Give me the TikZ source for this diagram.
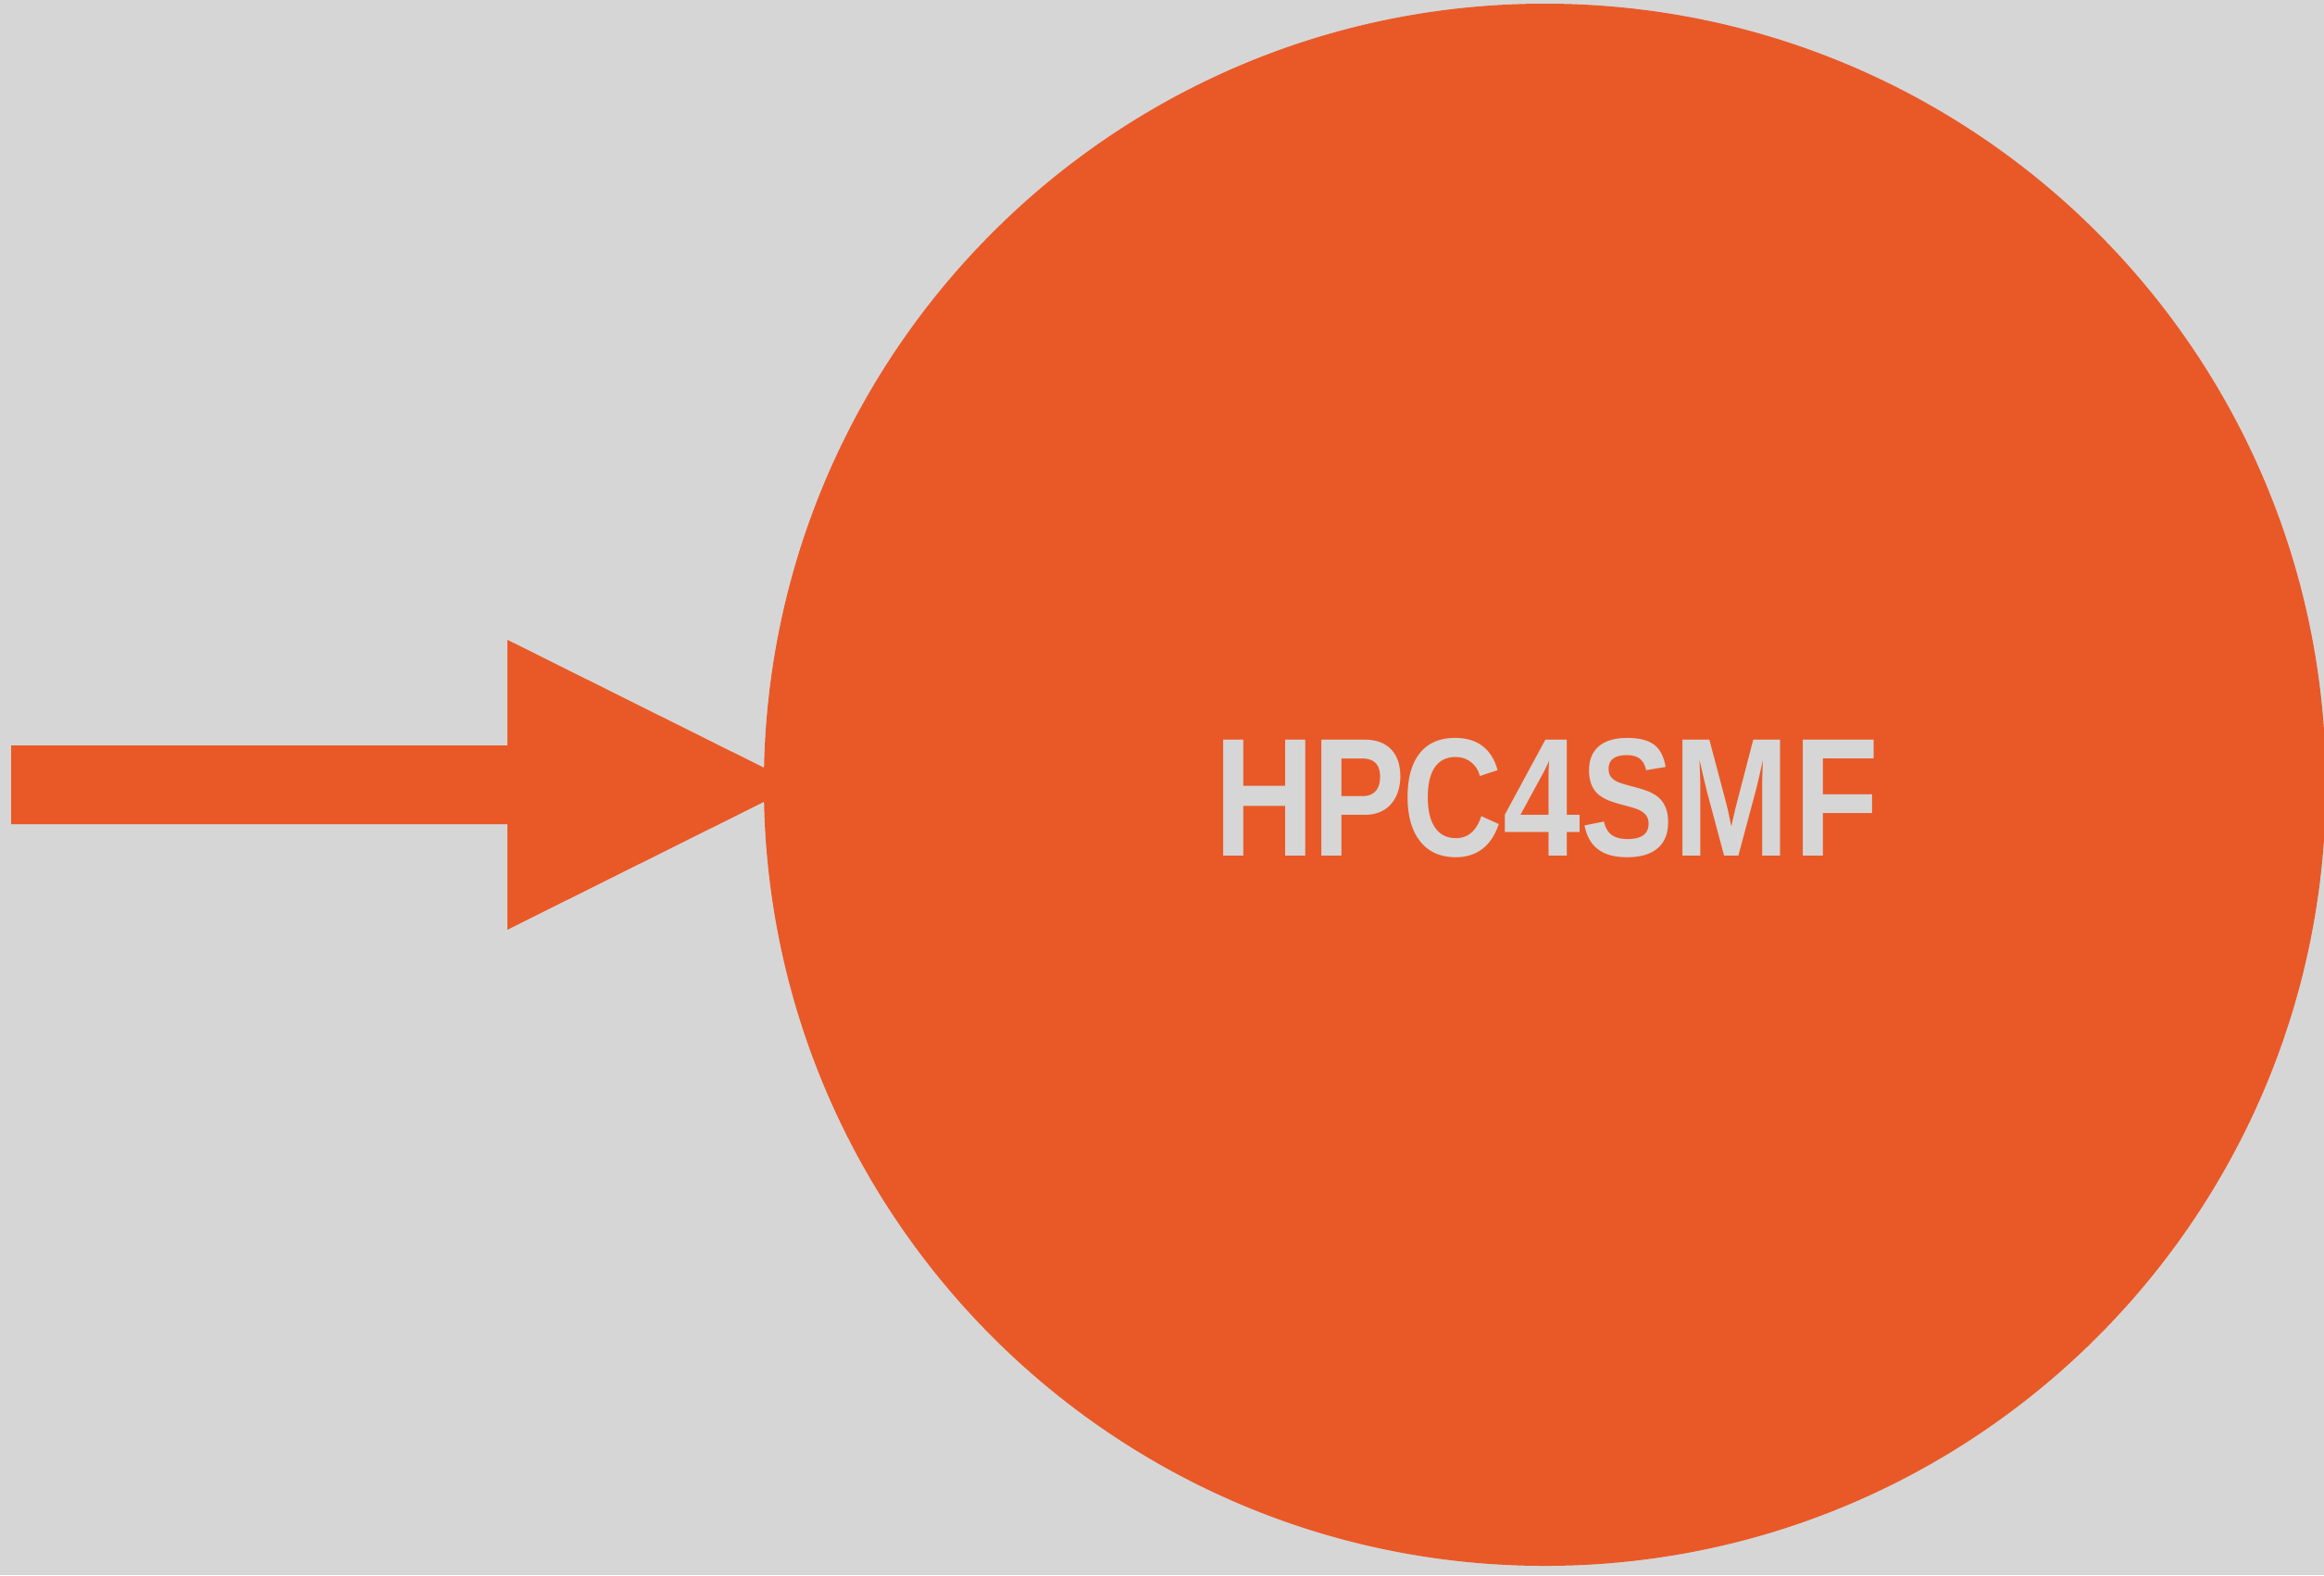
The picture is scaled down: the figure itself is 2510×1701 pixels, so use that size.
\documentclass[tikz,border=0pt]{standalone}
\usepackage{fontspec}
\setmainfont{Liberation Sans}
\usepackage{graphicx}
\definecolor{bg}{HTML}{D6D6D6}
\definecolor{accent}{HTML}{E95927}
\begin{document}
\begin{tikzpicture}[x=1pt,y=-1pt,
  hub/.style={circle,fill=accent,inner sep=0pt,minimum size=1687pt},
  label/.style={inner sep=0pt,text=bg,anchor=south west},
  bigarrow/.style={fill=accent}]
  \fill[bg] (0,0) rectangle (2510,1701);
  \useasboundingbox (0,0) rectangle (2510,1701);
  \coordinate (tail) at (12,847.5);
  \coordinate (tip) at (862,847.5);
  \fill[bigarrow] (12,805) -- (548,805) -- (548,691) -- (tip)
     -- (548,1004) -- (548,890) -- (12,890) -- cycle;
  \node[hub] (hub) at (1668.5,847.5) {};
  \node[label] (name) at (1311,926) {\resizebox{718pt}{127pt}{\bfseries H\kern-0.02em P\kern-0.02em C4SM\kern0.03em F}};
\end{tikzpicture}
\end{document}
